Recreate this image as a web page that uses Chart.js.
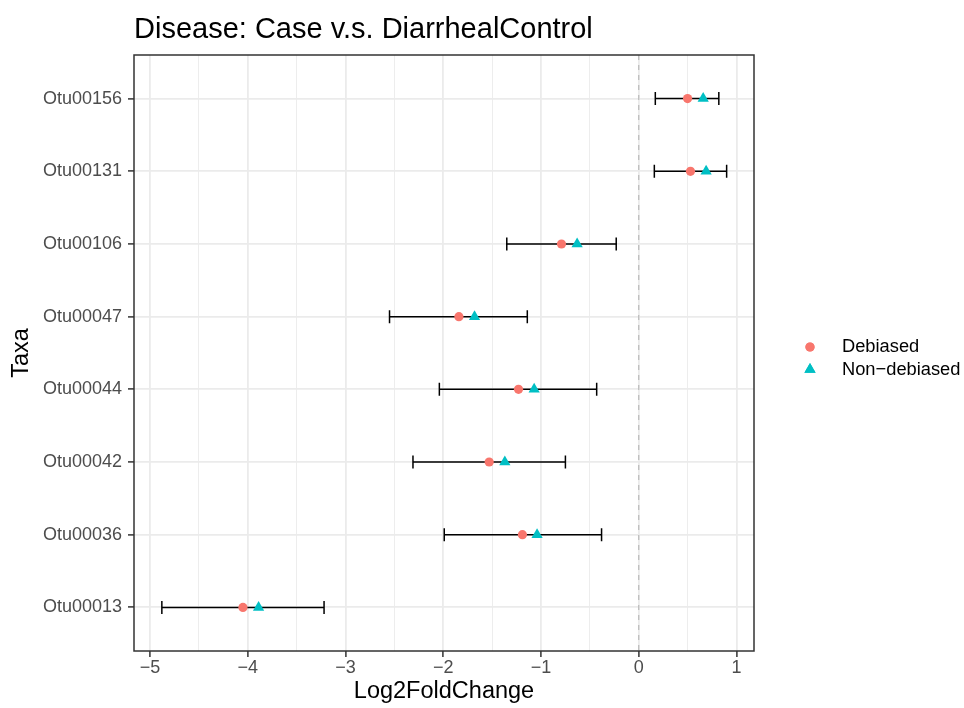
<!DOCTYPE html>
<html>
<head>
<meta charset="utf-8">
<script src="https://cdn.jsdelivr.net/npm/chart.js@4/dist/chart.umd.min.js"></script>
<style>
  body { margin: 0; background: #fff; }
  #wrap { width: 964px; height: 708px; }
</style>
</head>
<body>
<div id="wrap"><canvas id="fc" width="964" height="708"></canvas></div>
<script>
// taxa from bottom to top of the panel
const taxa = ['Otu00013', 'Otu00036', 'Otu00042', 'Otu00044', 'Otu00047', 'Otu00106', 'Otu00131', 'Otu00156'];
const debiased = [-4.05, -1.19, -1.53, -1.23, -1.84, -0.79, 0.53, 0.50];
const nonDebiased = [-3.89, -1.04, -1.37, -1.07, -1.68, -0.63, 0.69, 0.66];
const lower = [-4.88, -1.99, -2.31, -2.04, -2.55, -1.35, 0.16, 0.17];
const upper = [-3.22, -0.38, -0.75, -0.43, -1.14, -0.23, 0.90, 0.82];
const xTicks = [-5, -4, -3, -2, -1, 0, 1];

const red = '#F8766D';
const teal = '#00BFC4';
const fontFamily = '"Liberation Sans", Arial, sans-serif';

function minus(v) {
	return String(v).replace('-', '\u2212');
}

// error bars, zero line, panel border, title and legend
const extras = {
	id: 'extras',
	beforeDatasetsDraw(chart) {
		const ctx = chart.ctx, x = chart.scales.x, y = chart.scales.y, area = chart.chartArea;
		ctx.save();
		// dashed reference line at zero
		ctx.strokeStyle = '#bebebe';
		ctx.lineWidth = 1.3;
		ctx.setLineDash([5, 5]);
		ctx.beginPath();
		ctx.moveTo(x.getPixelForValue(0), area.top);
		ctx.lineTo(x.getPixelForValue(0), area.bottom);
		ctx.stroke();
		ctx.setLineDash([]);
		// confidence intervals
		ctx.strokeStyle = '#000';
		ctx.lineWidth = 1.5;
		for (let i = 0; i < taxa.length; i++) {
			let py = y.getPixelForValue(i + 1);
			let x0 = x.getPixelForValue(lower[i]);
			let x1 = x.getPixelForValue(upper[i]);
			ctx.beginPath();
			ctx.moveTo(x0, py); ctx.lineTo(x1, py);
			ctx.moveTo(x0, py - 6.5); ctx.lineTo(x0, py + 6.5);
			ctx.moveTo(x1, py - 6.5); ctx.lineTo(x1, py + 6.5);
			ctx.stroke();
		}
		ctx.restore();
	},
	afterDraw(chart) {
		const ctx = chart.ctx, area = chart.chartArea;
		ctx.save();
		ctx.strokeStyle = '#333';
		ctx.lineWidth = 1.5;
		ctx.strokeRect(area.left, area.top, area.right - area.left, area.bottom - area.top);

		ctx.fillStyle = '#000';
		ctx.font = '29px ' + fontFamily;
		ctx.textBaseline = 'middle';
		ctx.textAlign = 'left';
		ctx.fillText('Disease: Case v.s. DiarrhealControl', area.left, 30);

		// legend
		const items = [
			{ label: 'Debiased', style: 'circle', radius: 4.6, color: red },
			{ label: 'Non\u2212debiased', style: 'triangle', radius: 6.5, color: teal }
		];
		ctx.font = '18.3px ' + fontFamily;
		items.forEach((it, k) => {
			let cy = 347 + k * 22.5;
			ctx.fillStyle = it.color;
			Chart.helpers.drawPoint(ctx, { pointStyle: it.style, radius: it.radius, rotation: 0, borderWidth: 0 }, 810, cy);
			ctx.fill();
			ctx.fillStyle = '#000';
			ctx.fillText(it.label, 842, cy);
		});
		ctx.restore();
	}
};

new Chart(document.getElementById('fc').getContext('2d'), {
	type: 'scatter',
	data: {
		datasets: [{
			label: 'Debiased',
			data: debiased.map((v, i) => ({ x: v, y: i + 1 })),
			pointStyle: 'circle',
			pointRadius: 4.6,
			pointBorderWidth: 0,
			backgroundColor: red,
			borderColor: red
		}, {
			label: 'Non-debiased',
			data: nonDebiased.map((v, i) => ({ x: v, y: i + 1 })),
			pointStyle: 'triangle',
			pointRadius: 6.5,
			pointBorderWidth: 0,
			backgroundColor: teal,
			borderColor: teal
		}]
	},
	options: {
		responsive: false,
		animation: false,
		layout: { padding: { top: 55, left: 0, right: 210, bottom: 0 } },
		plugins: {
			legend: { display: false },
			tooltip: { enabled: false },
			title: { display: false }
		},
		scales: {
			x: {
				type: 'linear',
				min: -5.165,
				max: 1.18,
				afterFit(scale) { scale.height = 57; },
				afterBuildTicks(scale) {
					let t = [];
					for (let v = -5; v <= 1; v += 0.5) t.push({ value: v });
					scale.ticks = t;
				},
				ticks: {
					autoSkip: false,
					maxRotation: 0,
					padding: 0,
					color: '#4d4d4d',
					font: { family: fontFamily, size: 18 },
					callback: (v) => xTicks.includes(v) ? minus(v) : ''
				},
				grid: {
					color: '#ebebeb',
					lineWidth: (c) => Number.isInteger(c.tick && c.tick.value) ? 1.8 : 0.9,
					tickLength: 6,
					tickColor: (c) => Number.isInteger(c.tick && c.tick.value) ? '#333' : 'rgba(0,0,0,0)',
					tickWidth: 1.5
				},
				border: { display: false },
				title: {
					display: true,
					text: 'Log2FoldChange',
					color: '#000',
					font: { family: fontFamily, size: 23.5 },
					padding: { top: 0, bottom: 2 }
				}
			},
			y: {
				type: 'linear',
				min: 0.4,
				max: 8.6,
				afterFit(scale) { scale.width = 134; },
				afterBuildTicks(scale) {
					scale.ticks = taxa.map((t, i) => ({ value: i + 1 }));
				},
				ticks: {
					autoSkip: false,
					padding: 6,
					color: '#4d4d4d',
					font: { family: fontFamily, size: 18 },
					callback: (v) => taxa[v - 1]
				},
				grid: {
					color: '#ebebeb',
					lineWidth: 1.8,
					tickLength: 6,
					tickColor: '#333',
					tickWidth: 1.5
				},
				border: { display: false },
				title: {
					display: true,
					text: 'Taxa',
					color: '#000',
					font: { family: fontFamily, size: 23.5 },
					padding: { top: 7, bottom: 0 }
				}
			}
		}
	},
	plugins: [extras]
});
</script>
</body>
</html>
